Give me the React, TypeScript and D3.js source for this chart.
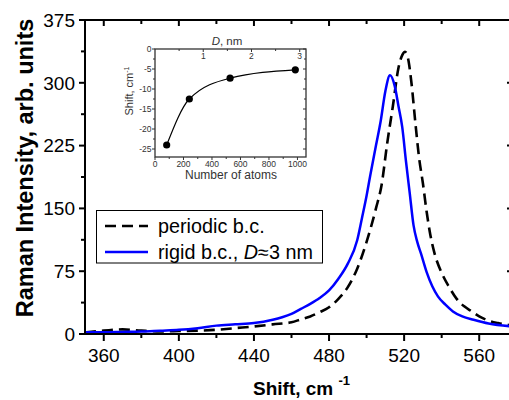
import React from "react";
import * as d3 from "d3";

// Main chart data
const periodicX = [350,360,370,380,390,400,410,420,430,440,450,460,465,470,475,480,485,490,495,500,505,508,511,514,517,519,520.5,522,524,526,528,530,532,534,536,540,544,548,552,556,560,565,570,578];
const periodicY = [2,4,5.5,4,3,3.5,4,5,7,9,11.5,14,17.5,21,26,32,42,56,78,110,150,178,228,272,318,333,337,330,298,252,210,180,146,118,98,73,56,42,33,27,21,16,13,10];
const rigidX = [350,360,370,380,390,400,410,420,430,440,450,455,460,465,470,475,480,485,490,495,497.5,500,502,505,507.5,510,512.5,515,517,519,521,523,525,527,529,532,535,538,542,546,551,557,565,578];
const rigidY = [2,2,2.5,3,4,5,7,10,11.5,13,17,20,24,30,36,43,52,66,84,112,138,165,190,225,254,290,309,296,272,247,206,168,130,110,96,74,57,45,35,27,21,17,12.5,9];

const xMajor = [360,400,440,480,520,560];
const xMinor = [380,420,460,500,540];
const yMajor = [0,75,150,225,300,375];
const yMinor = [37.5,112.5,187.5,262.5,337.5];

// Inset data
const atoms = [82, 241, 527, 985];
const shifts = [-24, -12.5, -7.3, -5.2];
const insetXTicks = [0,200,400,600,800,1000];
const insetXMinor = [100,300,500,700,900];
const insetYTicks = [0,-5,-10,-15,-20,-25];
const insetYMinor = [-2.5,-7.5,-12.5,-17.5,-22.5];
const dTicks = [1,2,3];
const dMinor = [0.5,1.5,2.5];

const FONT = "'Liberation Sans', Arial, Helvetica, sans-serif";

export default function App() {
  const L = 85, R = 513, T = 20, B = 334;
  const x = d3.scaleLinear().domain([350, 578]).range([L, R]);
  const y = d3.scaleLinear().domain([0, 375]).range([B, T]);

  const line = d3.line<[number, number]>()
    .x(d => x(d[0])).y(d => y(d[1])).curve(d3.curveMonotoneX);
  const pData = periodicX.map((v, i) => [v, periodicY[i]] as [number, number]);
  const rData = rigidX.map((v, i) => [v, rigidY[i]] as [number, number]);

  // inset
  const iL = 155, iR = 306, iT = 49, iB = 157;
  const ix = d3.scaleLinear().domain([0, 1060]).range([iL, iR]);
  const iD = d3.scaleLinear().domain([0, 3.13]).range([iL, iR]);
  const iy = d3.scaleLinear().domain([-27, 0]).range([iB, iT]);
  const iLine = d3.line<[number, number]>()
    .x(d => ix(d[0])).y(d => iy(d[1])).curve(d3.curveMonotoneX);
  const iData = atoms.map((v, i) => [v, shifts[i]] as [number, number]);
  const ic = "#333";

  return (
    <svg width={509} height={400} style={{ position: "absolute", left: 0, top: 0, background: "#fff" }} fontFamily={FONT}>
      <defs>
        <clipPath id="plotclip"><rect x={L} y={T} width={R - L} height={B - T} /></clipPath>
      </defs>
      {/* curves */}
      <g clipPath="url(#plotclip)">
        <path d={line(pData) || ""} fill="none" stroke="#000" strokeWidth={2.6} strokeDasharray="11 6" />
        <path d={line(rData) || ""} fill="none" stroke="#0000ff" strokeWidth={2.5} />
      </g>
      {/* axes frame */}
      <rect x={L} y={T} width={R - L} height={B - T} fill="none" stroke="#000" strokeWidth={2} />
      {/* bottom & top ticks */}
      {xMajor.map(v => (
        <g key={"xm" + v}>
          <line x1={x(v)} x2={x(v)} y1={B} y2={B + 7} stroke="#000" strokeWidth={2} />
          <line x1={x(v)} x2={x(v)} y1={T} y2={T + 6} stroke="#000" strokeWidth={2} />
          <text x={x(v)} y={362} textAnchor="middle" fontSize={19}>{v}</text>
        </g>
      ))}
      {xMinor.map(v => (
        <g key={"xn" + v}>
          <line x1={x(v)} x2={x(v)} y1={B} y2={B + 4} stroke="#000" strokeWidth={2} />
          <line x1={x(v)} x2={x(v)} y1={T} y2={T + 4} stroke="#000" strokeWidth={2} />
        </g>
      ))}
      {yMajor.map(v => (
        <g key={"ym" + v}>
          <line x1={L - 6} x2={L} y1={y(v)} y2={y(v)} stroke="#000" strokeWidth={2} />
          <line x1={R - 6} x2={R} y1={y(v)} y2={y(v)} stroke="#000" strokeWidth={2} />
          <text x={75} y={y(v)} dy="0.36em" textAnchor="end" fontSize={19}>{v}</text>
        </g>
      ))}
      {yMinor.map(v => (
        <g key={"yn" + v}>
          <line x1={L - 4} x2={L} y1={y(v)} y2={y(v)} stroke="#000" strokeWidth={2} />
          <line x1={R - 4} x2={R} y1={y(v)} y2={y(v)} stroke="#000" strokeWidth={2} />
        </g>
      ))}
      {/* axis titles */}
      <text x={253} y={395} fontSize={19} fontWeight="bold">
        Shift, cm <tspan fontSize={13} dy={-10}>-1</tspan>
      </text>
      <text transform="translate(33,168) rotate(-90)" textAnchor="middle" fontSize={23.5} fontWeight="bold">
        Raman Intensity, arb. units
      </text>
      {/* legend */}
      <rect x={96.5} y={210.5} width={226} height={52.5} fill="#fff" stroke="#000" strokeWidth={1} />
      <line x1={105} x2={148} y1={226} y2={226} stroke="#000" strokeWidth={2.6} strokeDasharray="11 6" />
      <text x={158} y={233} fontSize={19.8}>periodic b.c.</text>
      <line x1={105} x2={148} y1={252} y2={252} stroke="#0000ff" strokeWidth={2.5} />
      <text x={158} y={259} fontSize={19.8}>rigid b.c., <tspan fontStyle="italic">D</tspan>≈3 nm</text>

      {/* inset */}
      <g>
        <rect x={iL} y={iT} width={iR - iL} height={iB - iT} fill="#fff" stroke={ic} strokeWidth={1.3} />
        {insetXTicks.map(v => (
          <g key={"ix" + v}>
            <line x1={ix(v)} x2={ix(v)} y1={iB} y2={iB + 3} stroke={ic} strokeWidth={1} />
            <text x={ix(v)} y={167} textAnchor="middle" fontSize={8.5} fill={ic}>{v}</text>
          </g>
        ))}
        {insetXMinor.map(v => (
          <line key={"ixm" + v} x1={ix(v)} x2={ix(v)} y1={iB} y2={iB + 2} stroke={ic} strokeWidth={1} />
        ))}
        {insetYTicks.map(v => (
          <g key={"iy" + v}>
            <line x1={iL - 3} x2={iL} y1={iy(v)} y2={iy(v)} stroke={ic} strokeWidth={1} />
            <line x1={iR - 3} x2={iR} y1={iy(v)} y2={iy(v)} stroke={ic} strokeWidth={1} />
            <text x={151.5} y={iy(v)} dy="0.36em" textAnchor="end" fontSize={8.5} fill={ic}>{v}</text>
          </g>
        ))}
        {insetYMinor.map(v => (
          <g key={"iym" + v}>
            <line x1={iL - 2} x2={iL} y1={iy(v)} y2={iy(v)} stroke={ic} strokeWidth={1} />
            <line x1={iR - 2} x2={iR} y1={iy(v)} y2={iy(v)} stroke={ic} strokeWidth={1} />
          </g>
        ))}
        {dTicks.map(v => (
          <g key={"id" + v}>
            <line x1={iD(v)} x2={iD(v)} y1={iT} y2={iT + 3} stroke={ic} strokeWidth={1} />
            <text x={iD(v)} y={59} textAnchor="middle" fontSize={8.5} fill={ic}>{v}</text>
          </g>
        ))}
        {dMinor.map(v => (
          <line key={"idm" + v} x1={iD(v)} x2={iD(v)} y1={iT} y2={iT + 2} stroke={ic} strokeWidth={1} />
        ))}
        <path d={iLine(iData) || ""} fill="none" stroke="#000" strokeWidth={1.2} />
        {iData.map((d, i) => (
          <circle key={"pt" + i} cx={ix(d[0])} cy={iy(d[1])} r={3.6} fill="#000" />
        ))}
        <text x={227} y={45} textAnchor="middle" fontSize={11.5} fill={ic}>
          <tspan fontStyle="italic">D</tspan>, nm
        </text>
        <text x={231} y={179} textAnchor="middle" fontSize={12} fill={ic}>Number of atoms</text>
        <text transform="translate(132.5,91) rotate(-90)" textAnchor="middle" fontSize={11} fill={ic}>
          Shift, cm<tspan fontSize={7} dy={-4}>-1</tspan>
        </text>
      </g>
    </svg>
  );
}
